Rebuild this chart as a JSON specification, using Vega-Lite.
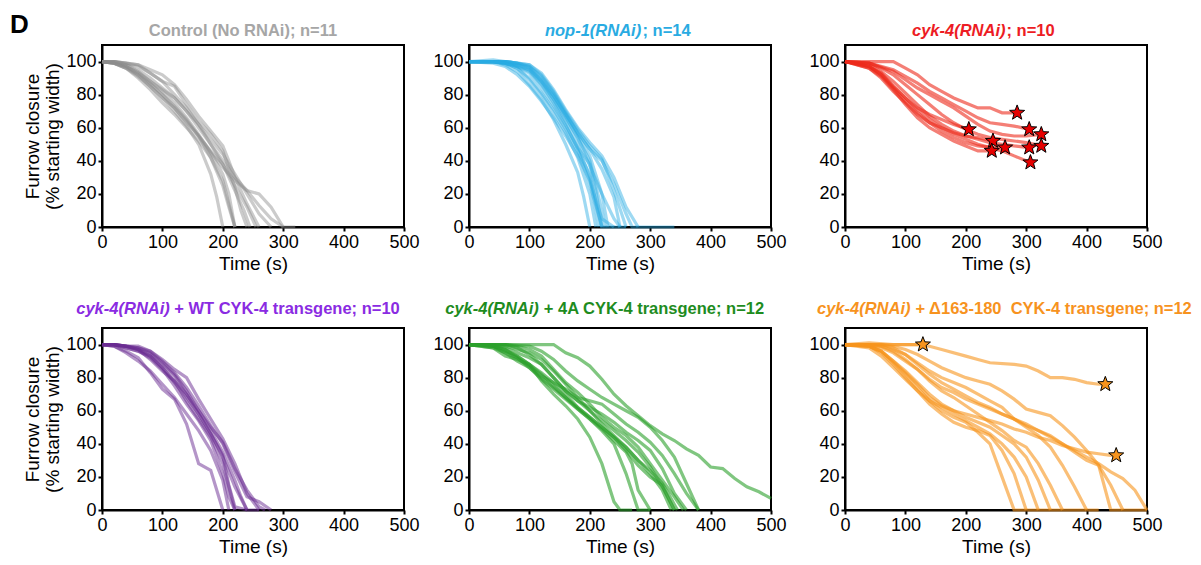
{
"$schema": "https://vega.github.io/schema/vega-lite/v6.json",
"background": "white",
"padding": {"left": 9, "top": 12, "right": 2, "bottom": 2},
"title": {"text": "D", "anchor": "start", "frame": "bounds", "fontSize": 26, "fontWeight": "bold", "color": "black", "baseline": "alphabetic", "offset": -38, "dx": -13},
"config": {
  "font": "Liberation Sans",
  "view": {"stroke": "black", "strokeWidth": 2},
  "axis": {"grid": false, "domainColor": "black", "domainWidth": 2, "tickColor": "black", "tickWidth": 2, "tickSize": 4, "labelColor": "black", "labelFontSize": 18, "labelPadding": 2, "labelFlush": false, "titleColor": "black", "titleFontSize": 19, "titleFontWeight": "normal", "titlePadding": 3}
},
"datasets": {
"ctrl": [
{"i":1,"t":0,"v":100},{"i":1,"t":20,"v":99},{"i":1,"t":40,"v":96},{"i":1,"t":60,"v":91},{"i":1,"t":80,"v":85},{"i":1,"t":100,"v":78},{"i":1,"t":120,"v":70},{"i":1,"t":140,"v":61},{"i":1,"t":160,"v":50},{"i":1,"t":180,"v":32},{"i":1,"t":190,"v":18},{"i":1,"t":200,"v":0},
{"i":2,"t":0,"v":100},{"i":2,"t":20,"v":99},{"i":2,"t":40,"v":96},{"i":2,"t":60,"v":90},{"i":2,"t":80,"v":83},{"i":2,"t":100,"v":75},{"i":2,"t":120,"v":68},{"i":2,"t":140,"v":60},{"i":2,"t":160,"v":52},{"i":2,"t":180,"v":42},{"i":2,"t":200,"v":28},{"i":2,"t":220,"v":0},
{"i":3,"t":0,"v":100},{"i":3,"t":20,"v":100},{"i":3,"t":40,"v":98},{"i":3,"t":60,"v":94},{"i":3,"t":80,"v":88},{"i":3,"t":100,"v":82},{"i":3,"t":120,"v":75},{"i":3,"t":140,"v":66},{"i":3,"t":160,"v":56},{"i":3,"t":180,"v":45},{"i":3,"t":200,"v":32},{"i":3,"t":210,"v":20},{"i":3,"t":220,"v":0},
{"i":4,"t":0,"v":100},{"i":4,"t":20,"v":100},{"i":4,"t":40,"v":99},{"i":4,"t":60,"v":98},{"i":4,"t":80,"v":93},{"i":4,"t":100,"v":88},{"i":4,"t":120,"v":85},{"i":4,"t":140,"v":74},{"i":4,"t":160,"v":64},{"i":4,"t":180,"v":56},{"i":4,"t":200,"v":46},{"i":4,"t":220,"v":24},{"i":4,"t":230,"v":10},{"i":4,"t":240,"v":0},
{"i":5,"t":0,"v":100},{"i":5,"t":20,"v":99},{"i":5,"t":40,"v":97},{"i":5,"t":60,"v":93},{"i":5,"t":80,"v":87},{"i":5,"t":100,"v":80},{"i":5,"t":120,"v":72},{"i":5,"t":140,"v":64},{"i":5,"t":160,"v":55},{"i":5,"t":180,"v":46},{"i":5,"t":200,"v":38},{"i":5,"t":220,"v":25},{"i":5,"t":240,"v":12},{"i":5,"t":255,"v":0},
{"i":6,"t":0,"v":100},{"i":6,"t":20,"v":100},{"i":6,"t":40,"v":99},{"i":6,"t":60,"v":98},{"i":6,"t":80,"v":95},{"i":6,"t":100,"v":92},{"i":6,"t":120,"v":86},{"i":6,"t":140,"v":77},{"i":6,"t":160,"v":67},{"i":6,"t":180,"v":58},{"i":6,"t":200,"v":49},{"i":6,"t":210,"v":40},{"i":6,"t":220,"v":30},{"i":6,"t":240,"v":14},{"i":6,"t":260,"v":0},
{"i":7,"t":0,"v":100},{"i":7,"t":20,"v":99},{"i":7,"t":40,"v":97},{"i":7,"t":60,"v":92},{"i":7,"t":80,"v":85},{"i":7,"t":100,"v":78},{"i":7,"t":120,"v":72},{"i":7,"t":140,"v":63},{"i":7,"t":160,"v":55},{"i":7,"t":180,"v":45},{"i":7,"t":200,"v":36},{"i":7,"t":220,"v":28},{"i":7,"t":240,"v":22},{"i":7,"t":260,"v":20},{"i":7,"t":280,"v":12},{"i":7,"t":300,"v":0},
{"i":8,"t":0,"v":100},{"i":8,"t":20,"v":100},{"i":8,"t":40,"v":98},{"i":8,"t":60,"v":95},{"i":8,"t":80,"v":90},{"i":8,"t":100,"v":84},{"i":8,"t":120,"v":78},{"i":8,"t":140,"v":70},{"i":8,"t":160,"v":60},{"i":8,"t":180,"v":50},{"i":8,"t":200,"v":40},{"i":8,"t":220,"v":30},{"i":8,"t":240,"v":22},{"i":8,"t":260,"v":13},{"i":8,"t":280,"v":5},{"i":8,"t":300,"v":0},{"i":8,"t":320,"v":0},
{"i":9,"t":0,"v":100},{"i":9,"t":20,"v":99},{"i":9,"t":40,"v":97},{"i":9,"t":60,"v":93},{"i":9,"t":80,"v":88},{"i":9,"t":100,"v":83},{"i":9,"t":120,"v":78},{"i":9,"t":140,"v":70},{"i":9,"t":160,"v":62},{"i":9,"t":180,"v":53},{"i":9,"t":200,"v":44},{"i":9,"t":220,"v":32},{"i":9,"t":240,"v":20},{"i":9,"t":260,"v":8},{"i":9,"t":280,"v":0},
{"i":10,"t":0,"v":100},{"i":10,"t":20,"v":99},{"i":10,"t":40,"v":96},{"i":10,"t":60,"v":92},{"i":10,"t":80,"v":86},{"i":10,"t":100,"v":80},{"i":10,"t":120,"v":73},{"i":10,"t":140,"v":65},{"i":10,"t":160,"v":55},{"i":10,"t":180,"v":42},{"i":10,"t":200,"v":25},{"i":10,"t":210,"v":12},{"i":10,"t":220,"v":0},
{"i":11,"t":0,"v":100},{"i":11,"t":20,"v":100},{"i":11,"t":40,"v":99},{"i":11,"t":60,"v":97},{"i":11,"t":80,"v":93},{"i":11,"t":100,"v":88},{"i":11,"t":120,"v":80},{"i":11,"t":140,"v":72},{"i":11,"t":160,"v":62},{"i":11,"t":180,"v":50},{"i":11,"t":200,"v":38},{"i":11,"t":220,"v":22},{"i":11,"t":235,"v":10},{"i":11,"t":245,"v":0}
],
"nop": [
{"i":1,"t":0,"v":100},{"i":1,"t":40,"v":100},{"i":1,"t":60,"v":98},{"i":1,"t":80,"v":94},{"i":1,"t":100,"v":86},{"i":1,"t":120,"v":77},{"i":1,"t":140,"v":65},{"i":1,"t":160,"v":50},{"i":1,"t":180,"v":33},{"i":1,"t":190,"v":18},{"i":1,"t":200,"v":0},
{"i":2,"t":0,"v":100},{"i":2,"t":40,"v":100},{"i":2,"t":60,"v":99},{"i":2,"t":80,"v":96},{"i":2,"t":100,"v":89},{"i":2,"t":120,"v":80},{"i":2,"t":140,"v":69},{"i":2,"t":160,"v":57},{"i":2,"t":180,"v":42},{"i":2,"t":200,"v":20},{"i":2,"t":210,"v":0},
{"i":3,"t":0,"v":100},{"i":3,"t":40,"v":100},{"i":3,"t":60,"v":100},{"i":3,"t":80,"v":98},{"i":3,"t":100,"v":96},{"i":3,"t":120,"v":88},{"i":3,"t":140,"v":77},{"i":3,"t":160,"v":64},{"i":3,"t":180,"v":50},{"i":3,"t":200,"v":30},{"i":3,"t":215,"v":0},
{"i":4,"t":0,"v":100},{"i":4,"t":40,"v":100},{"i":4,"t":60,"v":99},{"i":4,"t":80,"v":97},{"i":4,"t":100,"v":93},{"i":4,"t":120,"v":84},{"i":4,"t":140,"v":73},{"i":4,"t":160,"v":61},{"i":4,"t":180,"v":48},{"i":4,"t":200,"v":38},{"i":4,"t":210,"v":22},{"i":4,"t":220,"v":0},
{"i":5,"t":0,"v":100},{"i":5,"t":40,"v":101},{"i":5,"t":60,"v":100},{"i":5,"t":80,"v":99},{"i":5,"t":100,"v":97},{"i":5,"t":120,"v":90},{"i":5,"t":140,"v":80},{"i":5,"t":160,"v":68},{"i":5,"t":180,"v":56},{"i":5,"t":200,"v":43},{"i":5,"t":220,"v":20},{"i":5,"t":230,"v":0},
{"i":6,"t":0,"v":100},{"i":6,"t":40,"v":100},{"i":6,"t":60,"v":99},{"i":6,"t":80,"v":97},{"i":6,"t":100,"v":95},{"i":6,"t":120,"v":87},{"i":6,"t":140,"v":77},{"i":6,"t":160,"v":66},{"i":6,"t":180,"v":54},{"i":6,"t":200,"v":40},{"i":6,"t":220,"v":10},{"i":6,"t":225,"v":0},
{"i":7,"t":0,"v":100},{"i":7,"t":40,"v":100},{"i":7,"t":60,"v":100},{"i":7,"t":80,"v":99},{"i":7,"t":100,"v":98},{"i":7,"t":120,"v":92},{"i":7,"t":140,"v":82},{"i":7,"t":160,"v":70},{"i":7,"t":180,"v":59},{"i":7,"t":200,"v":49},{"i":7,"t":220,"v":41},{"i":7,"t":240,"v":22},{"i":7,"t":260,"v":0},
{"i":8,"t":0,"v":100},{"i":8,"t":40,"v":100},{"i":8,"t":60,"v":100},{"i":8,"t":80,"v":99},{"i":8,"t":100,"v":98},{"i":8,"t":120,"v":93},{"i":8,"t":140,"v":83},{"i":8,"t":160,"v":71},{"i":8,"t":180,"v":60},{"i":8,"t":200,"v":51},{"i":8,"t":220,"v":43},{"i":8,"t":240,"v":30},{"i":8,"t":260,"v":12},{"i":8,"t":280,"v":0},
{"i":9,"t":0,"v":100},{"i":9,"t":40,"v":99},{"i":9,"t":60,"v":97},{"i":9,"t":80,"v":92},{"i":9,"t":100,"v":85},{"i":9,"t":120,"v":76},{"i":9,"t":140,"v":66},{"i":9,"t":160,"v":55},{"i":9,"t":180,"v":43},{"i":9,"t":200,"v":28},{"i":9,"t":220,"v":5},{"i":9,"t":240,"v":0},
{"i":10,"t":0,"v":100},{"i":10,"t":40,"v":100},{"i":10,"t":60,"v":100},{"i":10,"t":80,"v":99},{"i":10,"t":100,"v":97},{"i":10,"t":120,"v":91},{"i":10,"t":140,"v":81},{"i":10,"t":160,"v":69},{"i":10,"t":180,"v":57},{"i":10,"t":200,"v":47},{"i":10,"t":220,"v":35},{"i":10,"t":240,"v":18},{"i":10,"t":250,"v":0},
{"i":11,"t":0,"v":100},{"i":11,"t":40,"v":100},{"i":11,"t":60,"v":99},{"i":11,"t":80,"v":97},{"i":11,"t":100,"v":94},{"i":11,"t":120,"v":86},{"i":11,"t":140,"v":75},{"i":11,"t":160,"v":62},{"i":11,"t":180,"v":47},{"i":11,"t":200,"v":26},{"i":11,"t":220,"v":0},{"i":11,"t":260,"v":0},
{"i":12,"t":0,"v":100},{"i":12,"t":40,"v":100},{"i":12,"t":60,"v":100},{"i":12,"t":80,"v":99},{"i":12,"t":100,"v":96},{"i":12,"t":120,"v":89},{"i":12,"t":140,"v":79},{"i":12,"t":160,"v":68},{"i":12,"t":180,"v":57},{"i":12,"t":200,"v":47},{"i":12,"t":220,"v":40},{"i":12,"t":240,"v":26},{"i":12,"t":260,"v":8},{"i":12,"t":270,"v":0},{"i":12,"t":340,"v":0},
{"i":13,"t":0,"v":100},{"i":13,"t":40,"v":100},{"i":13,"t":60,"v":99},{"i":13,"t":80,"v":96},{"i":13,"t":100,"v":90},{"i":13,"t":120,"v":81},{"i":13,"t":140,"v":71},{"i":13,"t":160,"v":59},{"i":13,"t":180,"v":46},{"i":13,"t":200,"v":32},{"i":13,"t":210,"v":15},{"i":13,"t":220,"v":0},
{"i":14,"t":0,"v":100},{"i":14,"t":40,"v":100},{"i":14,"t":60,"v":99},{"i":14,"t":80,"v":98},{"i":14,"t":100,"v":95},{"i":14,"t":120,"v":88},{"i":14,"t":140,"v":79},{"i":14,"t":160,"v":67},{"i":14,"t":180,"v":54},{"i":14,"t":200,"v":37},{"i":14,"t":220,"v":20},{"i":14,"t":240,"v":5},{"i":14,"t":250,"v":0}
],
"cyk": [
{"i":1,"t":0,"v":100},{"i":1,"t":40,"v":100},{"i":1,"t":80,"v":100},{"i":1,"t":100,"v":96},{"i":1,"t":120,"v":92},{"i":1,"t":140,"v":86},{"i":1,"t":160,"v":82},{"i":1,"t":180,"v":78},{"i":1,"t":200,"v":75},{"i":1,"t":220,"v":72},{"i":1,"t":240,"v":72},{"i":1,"t":260,"v":69},{"i":1,"t":285,"v":69},
{"i":2,"t":0,"v":100},{"i":2,"t":40,"v":99},{"i":2,"t":80,"v":95},{"i":2,"t":100,"v":91},{"i":2,"t":120,"v":87},{"i":2,"t":140,"v":82},{"i":2,"t":160,"v":78},{"i":2,"t":180,"v":74},{"i":2,"t":200,"v":70},{"i":2,"t":220,"v":66},{"i":2,"t":240,"v":63},{"i":2,"t":260,"v":62},{"i":2,"t":280,"v":61},{"i":2,"t":305,"v":59},
{"i":3,"t":0,"v":100},{"i":3,"t":40,"v":99},{"i":3,"t":80,"v":94},{"i":3,"t":100,"v":89},{"i":3,"t":120,"v":84},{"i":3,"t":140,"v":80},{"i":3,"t":160,"v":76},{"i":3,"t":180,"v":72},{"i":3,"t":200,"v":67},{"i":3,"t":220,"v":62},{"i":3,"t":240,"v":58},{"i":3,"t":260,"v":56},{"i":3,"t":280,"v":55},{"i":3,"t":300,"v":55},{"i":3,"t":325,"v":56},
{"i":4,"t":0,"v":100},{"i":4,"t":40,"v":97},{"i":4,"t":60,"v":93},{"i":4,"t":80,"v":85},{"i":4,"t":100,"v":78},{"i":4,"t":120,"v":72},{"i":4,"t":140,"v":68},{"i":4,"t":160,"v":65},{"i":4,"t":180,"v":62},{"i":4,"t":205,"v":59},
{"i":5,"t":0,"v":100},{"i":5,"t":40,"v":96},{"i":5,"t":60,"v":90},{"i":5,"t":80,"v":82},{"i":5,"t":100,"v":75},{"i":5,"t":120,"v":68},{"i":5,"t":140,"v":63},{"i":5,"t":160,"v":60},{"i":5,"t":180,"v":57},{"i":5,"t":200,"v":55},{"i":5,"t":220,"v":54},{"i":5,"t":245,"v":52},
{"i":6,"t":0,"v":100},{"i":6,"t":40,"v":97},{"i":6,"t":60,"v":92},{"i":6,"t":80,"v":84},{"i":6,"t":100,"v":76},{"i":6,"t":120,"v":69},{"i":6,"t":140,"v":63},{"i":6,"t":160,"v":58},{"i":6,"t":180,"v":54},{"i":6,"t":200,"v":51},{"i":6,"t":220,"v":49},{"i":6,"t":245,"v":48},{"i":6,"t":265,"v":48},
{"i":7,"t":0,"v":100},{"i":7,"t":40,"v":96},{"i":7,"t":60,"v":91},{"i":7,"t":80,"v":83},{"i":7,"t":100,"v":74},{"i":7,"t":120,"v":66},{"i":7,"t":140,"v":60},{"i":7,"t":160,"v":56},{"i":7,"t":180,"v":52},{"i":7,"t":200,"v":49},{"i":7,"t":220,"v":46},{"i":7,"t":243,"v":46},
{"i":8,"t":0,"v":100},{"i":8,"t":40,"v":98},{"i":8,"t":60,"v":94},{"i":8,"t":80,"v":88},{"i":8,"t":100,"v":81},{"i":8,"t":120,"v":74},{"i":8,"t":140,"v":67},{"i":8,"t":160,"v":62},{"i":8,"t":180,"v":58},{"i":8,"t":200,"v":55},{"i":8,"t":220,"v":53},{"i":8,"t":240,"v":51},{"i":8,"t":260,"v":50},{"i":8,"t":280,"v":49},{"i":8,"t":305,"v":48},
{"i":9,"t":0,"v":100},{"i":9,"t":40,"v":99},{"i":9,"t":60,"v":96},{"i":9,"t":80,"v":92},{"i":9,"t":100,"v":86},{"i":9,"t":120,"v":80},{"i":9,"t":140,"v":74},{"i":9,"t":160,"v":68},{"i":9,"t":180,"v":63},{"i":9,"t":200,"v":59},{"i":9,"t":220,"v":56},{"i":9,"t":240,"v":54},{"i":9,"t":260,"v":53},{"i":9,"t":280,"v":52},{"i":9,"t":300,"v":51},{"i":9,"t":325,"v":49},
{"i":10,"t":0,"v":100},{"i":10,"t":40,"v":97},{"i":10,"t":60,"v":92},{"i":10,"t":80,"v":85},{"i":10,"t":100,"v":78},{"i":10,"t":120,"v":71},{"i":10,"t":140,"v":65},{"i":10,"t":160,"v":60},{"i":10,"t":180,"v":56},{"i":10,"t":200,"v":53},{"i":10,"t":220,"v":50},{"i":10,"t":240,"v":48},{"i":10,"t":260,"v":46},{"i":10,"t":280,"v":43},{"i":10,"t":307,"v":39}
],
"cykstar": [
{"t":285,"v":69},{"t":305,"v":59},{"t":325,"v":56},{"t":205,"v":59},{"t":245,"v":52},{"t":265,"v":48},{"t":243,"v":46},{"t":305,"v":48},{"t":325,"v":49},{"t":307,"v":39}
],
"wt": [
{"i":1,"t":0,"v":100},{"i":1,"t":20,"v":99},{"i":1,"t":40,"v":96},{"i":1,"t":60,"v":92},{"i":1,"t":80,"v":83},{"i":1,"t":100,"v":73},{"i":1,"t":120,"v":67},{"i":1,"t":140,"v":52},{"i":1,"t":160,"v":28},{"i":1,"t":180,"v":24},{"i":1,"t":200,"v":0},
{"i":2,"t":0,"v":100},{"i":2,"t":20,"v":99},{"i":2,"t":40,"v":95},{"i":2,"t":60,"v":90},{"i":2,"t":80,"v":84},{"i":2,"t":100,"v":76},{"i":2,"t":120,"v":68},{"i":2,"t":140,"v":58},{"i":2,"t":160,"v":48},{"i":2,"t":180,"v":36},{"i":2,"t":200,"v":18},{"i":2,"t":210,"v":0},
{"i":3,"t":0,"v":100},{"i":3,"t":20,"v":100},{"i":3,"t":40,"v":98},{"i":3,"t":60,"v":96},{"i":3,"t":80,"v":93},{"i":3,"t":100,"v":86},{"i":3,"t":120,"v":78},{"i":3,"t":140,"v":66},{"i":3,"t":160,"v":55},{"i":3,"t":180,"v":44},{"i":3,"t":200,"v":28},{"i":3,"t":220,"v":0},
{"i":4,"t":0,"v":100},{"i":4,"t":20,"v":100},{"i":4,"t":40,"v":99},{"i":4,"t":60,"v":97},{"i":4,"t":80,"v":94},{"i":4,"t":100,"v":88},{"i":4,"t":120,"v":81},{"i":4,"t":140,"v":70},{"i":4,"t":160,"v":58},{"i":4,"t":180,"v":46},{"i":4,"t":200,"v":33},{"i":4,"t":210,"v":15},{"i":4,"t":220,"v":2},{"i":4,"t":240,"v":0},
{"i":5,"t":0,"v":100},{"i":5,"t":20,"v":100},{"i":5,"t":40,"v":99},{"i":5,"t":60,"v":98},{"i":5,"t":80,"v":96},{"i":5,"t":100,"v":90},{"i":5,"t":120,"v":83},{"i":5,"t":140,"v":74},{"i":5,"t":160,"v":63},{"i":5,"t":180,"v":51},{"i":5,"t":200,"v":40},{"i":5,"t":220,"v":23},{"i":5,"t":240,"v":8},{"i":5,"t":260,"v":5},{"i":5,"t":280,"v":0},
{"i":6,"t":0,"v":100},{"i":6,"t":20,"v":100},{"i":6,"t":40,"v":99},{"i":6,"t":60,"v":99},{"i":6,"t":80,"v":96},{"i":6,"t":100,"v":91},{"i":6,"t":120,"v":85},{"i":6,"t":140,"v":80},{"i":6,"t":160,"v":67},{"i":6,"t":180,"v":55},{"i":6,"t":200,"v":43},{"i":6,"t":220,"v":28},{"i":6,"t":240,"v":10},{"i":6,"t":260,"v":0},
{"i":7,"t":0,"v":100},{"i":7,"t":20,"v":100},{"i":7,"t":40,"v":99},{"i":7,"t":60,"v":97},{"i":7,"t":80,"v":93},{"i":7,"t":100,"v":86},{"i":7,"t":120,"v":77},{"i":7,"t":140,"v":68},{"i":7,"t":160,"v":58},{"i":7,"t":180,"v":46},{"i":7,"t":200,"v":32},{"i":7,"t":220,"v":14},{"i":7,"t":240,"v":0},
{"i":8,"t":0,"v":100},{"i":8,"t":20,"v":100},{"i":8,"t":40,"v":99},{"i":8,"t":60,"v":97},{"i":8,"t":80,"v":91},{"i":8,"t":100,"v":84},{"i":8,"t":120,"v":78},{"i":8,"t":140,"v":70},{"i":8,"t":160,"v":60},{"i":8,"t":180,"v":48},{"i":8,"t":200,"v":35},{"i":8,"t":220,"v":18},{"i":8,"t":230,"v":8},{"i":8,"t":240,"v":0},{"i":8,"t":260,"v":0},
{"i":9,"t":0,"v":100},{"i":9,"t":20,"v":100},{"i":9,"t":40,"v":98},{"i":9,"t":60,"v":96},{"i":9,"t":80,"v":92},{"i":9,"t":100,"v":85},{"i":9,"t":120,"v":75},{"i":9,"t":140,"v":64},{"i":9,"t":160,"v":54},{"i":9,"t":180,"v":42},{"i":9,"t":200,"v":22},{"i":9,"t":210,"v":8},{"i":9,"t":220,"v":0},
{"i":10,"t":0,"v":100},{"i":10,"t":20,"v":100},{"i":10,"t":40,"v":99},{"i":10,"t":60,"v":98},{"i":10,"t":80,"v":95},{"i":10,"t":100,"v":89},{"i":10,"t":120,"v":82},{"i":10,"t":140,"v":72},{"i":10,"t":160,"v":60},{"i":10,"t":180,"v":50},{"i":10,"t":200,"v":41},{"i":10,"t":220,"v":25},{"i":10,"t":240,"v":12},{"i":10,"t":260,"v":2},{"i":10,"t":270,"v":0}
],
"a4": [
{"i":1,"t":0,"v":100},{"i":1,"t":140,"v":100},{"i":1,"t":160,"v":95},{"i":1,"t":180,"v":92},{"i":1,"t":200,"v":87},{"i":1,"t":220,"v":79},{"i":1,"t":240,"v":70},{"i":1,"t":260,"v":63},{"i":1,"t":280,"v":57},{"i":1,"t":300,"v":51},{"i":1,"t":320,"v":46},{"i":1,"t":340,"v":42},{"i":1,"t":360,"v":37},{"i":1,"t":380,"v":33},{"i":1,"t":400,"v":26},{"i":1,"t":420,"v":25},{"i":1,"t":440,"v":19},{"i":1,"t":460,"v":14},{"i":1,"t":480,"v":11},{"i":1,"t":500,"v":7},
{"i":2,"t":0,"v":100},{"i":2,"t":60,"v":100},{"i":2,"t":100,"v":99},{"i":2,"t":120,"v":96},{"i":2,"t":140,"v":91},{"i":2,"t":160,"v":84},{"i":2,"t":180,"v":78},{"i":2,"t":200,"v":73},{"i":2,"t":220,"v":68},{"i":2,"t":240,"v":64},{"i":2,"t":260,"v":60},{"i":2,"t":280,"v":56},{"i":2,"t":300,"v":50},{"i":2,"t":320,"v":42},{"i":2,"t":340,"v":32},{"i":2,"t":360,"v":16},{"i":2,"t":380,"v":0},
{"i":3,"t":0,"v":100},{"i":3,"t":40,"v":99},{"i":3,"t":60,"v":96},{"i":3,"t":80,"v":93},{"i":3,"t":100,"v":88},{"i":3,"t":120,"v":78},{"i":3,"t":140,"v":70},{"i":3,"t":160,"v":63},{"i":3,"t":180,"v":55},{"i":3,"t":200,"v":44},{"i":3,"t":220,"v":28},{"i":3,"t":240,"v":5},{"i":3,"t":250,"v":0},{"i":3,"t":270,"v":0},
{"i":4,"t":0,"v":100},{"i":4,"t":40,"v":98},{"i":4,"t":60,"v":95},{"i":4,"t":80,"v":92},{"i":4,"t":100,"v":86},{"i":4,"t":120,"v":79},{"i":4,"t":140,"v":73},{"i":4,"t":160,"v":67},{"i":4,"t":180,"v":61},{"i":4,"t":200,"v":55},{"i":4,"t":220,"v":49},{"i":4,"t":240,"v":42},{"i":4,"t":260,"v":35},{"i":4,"t":270,"v":28},{"i":4,"t":280,"v":12},{"i":4,"t":300,"v":0},
{"i":5,"t":0,"v":100},{"i":5,"t":40,"v":99},{"i":5,"t":60,"v":97},{"i":5,"t":80,"v":93},{"i":5,"t":100,"v":88},{"i":5,"t":120,"v":82},{"i":5,"t":140,"v":75},{"i":5,"t":160,"v":68},{"i":5,"t":180,"v":61},{"i":5,"t":200,"v":55},{"i":5,"t":220,"v":48},{"i":5,"t":240,"v":40},{"i":5,"t":260,"v":22},{"i":5,"t":280,"v":0},{"i":5,"t":300,"v":0},
{"i":6,"t":0,"v":100},{"i":6,"t":40,"v":100},{"i":6,"t":60,"v":98},{"i":6,"t":80,"v":95},{"i":6,"t":100,"v":92},{"i":6,"t":120,"v":88},{"i":6,"t":140,"v":80},{"i":6,"t":160,"v":72},{"i":6,"t":180,"v":66},{"i":6,"t":200,"v":60},{"i":6,"t":220,"v":54},{"i":6,"t":240,"v":48},{"i":6,"t":260,"v":42},{"i":6,"t":280,"v":35},{"i":6,"t":300,"v":26},{"i":6,"t":320,"v":14},{"i":6,"t":340,"v":0},
{"i":7,"t":0,"v":100},{"i":7,"t":40,"v":99},{"i":7,"t":60,"v":95},{"i":7,"t":80,"v":90},{"i":7,"t":100,"v":86},{"i":7,"t":120,"v":80},{"i":7,"t":140,"v":74},{"i":7,"t":160,"v":68},{"i":7,"t":180,"v":62},{"i":7,"t":200,"v":56},{"i":7,"t":220,"v":50},{"i":7,"t":240,"v":44},{"i":7,"t":260,"v":38},{"i":7,"t":280,"v":30},{"i":7,"t":300,"v":22},{"i":7,"t":320,"v":12},{"i":7,"t":335,"v":0},
{"i":8,"t":0,"v":100},{"i":8,"t":60,"v":100},{"i":8,"t":80,"v":99},{"i":8,"t":100,"v":97},{"i":8,"t":120,"v":93},{"i":8,"t":140,"v":85},{"i":8,"t":160,"v":77},{"i":8,"t":180,"v":71},{"i":8,"t":200,"v":64},{"i":8,"t":220,"v":56},{"i":8,"t":240,"v":50},{"i":8,"t":260,"v":45},{"i":8,"t":280,"v":38},{"i":8,"t":300,"v":28},{"i":8,"t":320,"v":18},{"i":8,"t":340,"v":8},{"i":8,"t":355,"v":0},
{"i":9,"t":0,"v":100},{"i":9,"t":60,"v":100},{"i":9,"t":80,"v":98},{"i":9,"t":100,"v":94},{"i":9,"t":120,"v":88},{"i":9,"t":140,"v":80},{"i":9,"t":160,"v":72},{"i":9,"t":180,"v":66},{"i":9,"t":200,"v":62},{"i":9,"t":220,"v":58},{"i":9,"t":240,"v":53},{"i":9,"t":260,"v":47},{"i":9,"t":280,"v":42},{"i":9,"t":300,"v":36},{"i":9,"t":320,"v":25},{"i":9,"t":340,"v":10},{"i":9,"t":360,"v":0},
{"i":10,"t":0,"v":100},{"i":10,"t":40,"v":99},{"i":10,"t":60,"v":97},{"i":10,"t":80,"v":92},{"i":10,"t":100,"v":87},{"i":10,"t":120,"v":81},{"i":10,"t":140,"v":77},{"i":10,"t":160,"v":73},{"i":10,"t":180,"v":68},{"i":10,"t":200,"v":66},{"i":10,"t":220,"v":64},{"i":10,"t":240,"v":58},{"i":10,"t":260,"v":52},{"i":10,"t":280,"v":47},{"i":10,"t":300,"v":41},{"i":10,"t":320,"v":33},{"i":10,"t":340,"v":22},{"i":10,"t":360,"v":10},{"i":10,"t":380,"v":0},
{"i":11,"t":0,"v":100},{"i":11,"t":60,"v":99},{"i":11,"t":80,"v":97},{"i":11,"t":100,"v":95},{"i":11,"t":120,"v":91},{"i":11,"t":140,"v":84},{"i":11,"t":160,"v":76},{"i":11,"t":180,"v":68},{"i":11,"t":200,"v":60},{"i":11,"t":220,"v":52},{"i":11,"t":240,"v":45},{"i":11,"t":260,"v":38},{"i":11,"t":280,"v":30},{"i":11,"t":300,"v":24},{"i":11,"t":320,"v":16},{"i":11,"t":330,"v":10},{"i":11,"t":345,"v":0},
{"i":12,"t":0,"v":100},{"i":12,"t":40,"v":98},{"i":12,"t":60,"v":93},{"i":12,"t":80,"v":91},{"i":12,"t":100,"v":88},{"i":12,"t":120,"v":83},{"i":12,"t":140,"v":77},{"i":12,"t":160,"v":70},{"i":12,"t":180,"v":62},{"i":12,"t":200,"v":56},{"i":12,"t":220,"v":50},{"i":12,"t":240,"v":44},{"i":12,"t":260,"v":36},{"i":12,"t":280,"v":27},{"i":12,"t":300,"v":20},{"i":12,"t":320,"v":15},{"i":12,"t":340,"v":0}
],
"del": [
{"i":1,"t":0,"v":100},{"i":1,"t":60,"v":100},{"i":1,"t":129,"v":100},{"i":1,"t":160,"v":97},{"i":1,"t":200,"v":93},{"i":1,"t":220,"v":91},{"i":1,"t":240,"v":89},{"i":1,"t":280,"v":88},{"i":1,"t":300,"v":87},{"i":1,"t":320,"v":84},{"i":1,"t":340,"v":80},{"i":1,"t":360,"v":80},{"i":1,"t":380,"v":79},{"i":1,"t":400,"v":77},{"i":1,"t":420,"v":76},{"i":1,"t":431,"v":76},
{"i":2,"t":0,"v":100},{"i":2,"t":40,"v":99},{"i":2,"t":60,"v":96},{"i":2,"t":80,"v":90},{"i":2,"t":100,"v":83},{"i":2,"t":120,"v":76},{"i":2,"t":140,"v":68},{"i":2,"t":160,"v":63},{"i":2,"t":180,"v":60},{"i":2,"t":200,"v":58},{"i":2,"t":220,"v":56},{"i":2,"t":240,"v":54},{"i":2,"t":260,"v":52},{"i":2,"t":280,"v":49},{"i":2,"t":300,"v":47},{"i":2,"t":320,"v":44},{"i":2,"t":340,"v":42},{"i":2,"t":360,"v":39},{"i":2,"t":380,"v":37},{"i":2,"t":400,"v":35},{"i":2,"t":420,"v":34},{"i":2,"t":440,"v":33},{"i":2,"t":449,"v":33},
{"i":3,"t":0,"v":100},{"i":3,"t":40,"v":99},{"i":3,"t":60,"v":96},{"i":3,"t":80,"v":89},{"i":3,"t":100,"v":82},{"i":3,"t":120,"v":74},{"i":3,"t":140,"v":66},{"i":3,"t":160,"v":60},{"i":3,"t":180,"v":56},{"i":3,"t":200,"v":53},{"i":3,"t":220,"v":47},{"i":3,"t":240,"v":40},{"i":3,"t":260,"v":20},{"i":3,"t":280,"v":0},{"i":3,"t":420,"v":0},
{"i":4,"t":0,"v":100},{"i":4,"t":40,"v":99},{"i":4,"t":60,"v":95},{"i":4,"t":80,"v":88},{"i":4,"t":100,"v":80},{"i":4,"t":120,"v":72},{"i":4,"t":140,"v":64},{"i":4,"t":160,"v":58},{"i":4,"t":180,"v":53},{"i":4,"t":200,"v":50},{"i":4,"t":220,"v":48},{"i":4,"t":240,"v":45},{"i":4,"t":260,"v":36},{"i":4,"t":280,"v":22},{"i":4,"t":300,"v":0},
{"i":5,"t":0,"v":100},{"i":5,"t":40,"v":99},{"i":5,"t":60,"v":96},{"i":5,"t":80,"v":90},{"i":5,"t":100,"v":84},{"i":5,"t":120,"v":77},{"i":5,"t":140,"v":70},{"i":5,"t":160,"v":64},{"i":5,"t":180,"v":60},{"i":5,"t":200,"v":56},{"i":5,"t":220,"v":53},{"i":5,"t":240,"v":50},{"i":5,"t":260,"v":45},{"i":5,"t":280,"v":40},{"i":5,"t":300,"v":32},{"i":5,"t":320,"v":18},{"i":5,"t":340,"v":0},
{"i":6,"t":0,"v":100},{"i":6,"t":40,"v":100},{"i":6,"t":60,"v":98},{"i":6,"t":80,"v":95},{"i":6,"t":100,"v":90},{"i":6,"t":120,"v":85},{"i":6,"t":140,"v":78},{"i":6,"t":160,"v":72},{"i":6,"t":180,"v":68},{"i":6,"t":200,"v":63},{"i":6,"t":220,"v":58},{"i":6,"t":240,"v":53},{"i":6,"t":260,"v":48},{"i":6,"t":280,"v":42},{"i":6,"t":300,"v":38},{"i":6,"t":320,"v":28},{"i":6,"t":340,"v":15},{"i":6,"t":360,"v":0},
{"i":7,"t":0,"v":100},{"i":7,"t":40,"v":100},{"i":7,"t":60,"v":99},{"i":7,"t":80,"v":97},{"i":7,"t":100,"v":94},{"i":7,"t":120,"v":89},{"i":7,"t":140,"v":84},{"i":7,"t":160,"v":80},{"i":7,"t":180,"v":77},{"i":7,"t":200,"v":74},{"i":7,"t":220,"v":70},{"i":7,"t":240,"v":66},{"i":7,"t":260,"v":62},{"i":7,"t":280,"v":55},{"i":7,"t":300,"v":50},{"i":7,"t":320,"v":45},{"i":7,"t":340,"v":38},{"i":7,"t":360,"v":27},{"i":7,"t":380,"v":14},{"i":7,"t":400,"v":0},
{"i":8,"t":0,"v":100},{"i":8,"t":60,"v":100},{"i":8,"t":80,"v":99},{"i":8,"t":100,"v":97},{"i":8,"t":120,"v":94},{"i":8,"t":140,"v":90},{"i":8,"t":160,"v":86},{"i":8,"t":180,"v":83},{"i":8,"t":200,"v":80},{"i":8,"t":220,"v":78},{"i":8,"t":240,"v":76},{"i":8,"t":260,"v":72},{"i":8,"t":280,"v":67},{"i":8,"t":300,"v":61},{"i":8,"t":320,"v":59},{"i":8,"t":340,"v":57},{"i":8,"t":360,"v":51},{"i":8,"t":380,"v":44},{"i":8,"t":400,"v":36},{"i":8,"t":420,"v":27},{"i":8,"t":440,"v":0},{"i":8,"t":500,"v":0},
{"i":9,"t":0,"v":100},{"i":9,"t":60,"v":99},{"i":9,"t":80,"v":96},{"i":9,"t":100,"v":91},{"i":9,"t":120,"v":85},{"i":9,"t":140,"v":79},{"i":9,"t":160,"v":74},{"i":9,"t":180,"v":71},{"i":9,"t":200,"v":67},{"i":9,"t":220,"v":64},{"i":9,"t":240,"v":61},{"i":9,"t":260,"v":58},{"i":9,"t":280,"v":55},{"i":9,"t":300,"v":51},{"i":9,"t":320,"v":48},{"i":9,"t":340,"v":45},{"i":9,"t":360,"v":40},{"i":9,"t":380,"v":35},{"i":9,"t":400,"v":30},{"i":9,"t":420,"v":27},{"i":9,"t":440,"v":15},{"i":9,"t":460,"v":0},
{"i":10,"t":0,"v":100},{"i":10,"t":60,"v":100},{"i":10,"t":80,"v":98},{"i":10,"t":100,"v":94},{"i":10,"t":120,"v":88},{"i":10,"t":140,"v":82},{"i":10,"t":160,"v":77},{"i":10,"t":180,"v":73},{"i":10,"t":200,"v":69},{"i":10,"t":220,"v":65},{"i":10,"t":240,"v":62},{"i":10,"t":260,"v":58},{"i":10,"t":280,"v":55},{"i":10,"t":300,"v":52},{"i":10,"t":320,"v":48},{"i":10,"t":340,"v":44},{"i":10,"t":360,"v":40},{"i":10,"t":380,"v":36},{"i":10,"t":400,"v":32},{"i":10,"t":420,"v":28},{"i":10,"t":440,"v":23},{"i":10,"t":460,"v":19},{"i":10,"t":480,"v":12},{"i":10,"t":500,"v":0},
{"i":11,"t":0,"v":100},{"i":11,"t":40,"v":98},{"i":11,"t":60,"v":93},{"i":11,"t":80,"v":86},{"i":11,"t":100,"v":79},{"i":11,"t":120,"v":72},{"i":11,"t":140,"v":66},{"i":11,"t":160,"v":62},{"i":11,"t":180,"v":58},{"i":11,"t":200,"v":54},{"i":11,"t":220,"v":50},{"i":11,"t":240,"v":46},{"i":11,"t":260,"v":40},{"i":11,"t":280,"v":32},{"i":11,"t":300,"v":20},{"i":11,"t":320,"v":0},
{"i":12,"t":0,"v":100},{"i":12,"t":40,"v":101},{"i":12,"t":80,"v":100},{"i":12,"t":129,"v":100}
],
"delstar": [
{"t":129,"v":100},{"t":431,"v":76},{"t":449,"v":33}
]
},
"vconcat": [
{"hconcat": [
 {"hconcat": [
  {"width": 302, "height": 182, "data": {"name": "ctrl"},
   "layer": [
    {"mark": {"type": "line", "color": "#8c8c8c", "opacity": 0.45, "strokeWidth": 3.2},
     "encoding": {
      "x": {"field": "t", "type": "quantitative", "scale": {"domain": [0, 500], "nice": false}, "axis": {"orient": "bottom", "title": "Time (s)", "values": [0,100,200,300,400,500]}},
      "y": {"field": "v", "type": "quantitative", "scale": {"domain": [0, 110], "nice": false}, "axis": {"orient": "left", "title": ["Furrow closure", "(% starting width)"], "titleLineHeight": 20, "values": [0,20,40,60,80,100]}},
      "detail": {"field": "i", "type": "nominal"}}},
    {"mark": {"type": "point", "opacity": 0},
     "encoding": {
      "x": {"field": "t", "type": "quantitative", "axis": {"orient": "top", "domain": false, "ticks": false, "labels": false, "title": "Control (No RNAi); n=11", "titleX": 140.5, "titleY": -10, "titleAlign": "center", "titleBaseline": "alphabetic", "titleColor": "#a6a6a6", "titleFontWeight": "bold", "titleFontSize": 16.5}},
      "y": {"field": "v", "type": "quantitative", "axis": null}}}
   ],
   "resolve": {"axis": {"x": "independent", "y": "independent"}}},
  {"width": 302, "height": 182, "data": {"name": "nop"},
   "layer": [
    {"mark": {"type": "line", "color": "#29abe2", "opacity": 0.45, "strokeWidth": 3.2},
     "encoding": {
      "x": {"field": "t", "type": "quantitative", "scale": {"domain": [0, 500], "nice": false}, "axis": {"orient": "bottom", "title": "Time (s)", "values": [0,100,200,300,400,500]}},
      "y": {"field": "v", "type": "quantitative", "scale": {"domain": [0, 110], "nice": false}, "axis": {"orient": "left", "title": null, "values": [0,20,40,60,80,100]}},
      "detail": {"field": "i", "type": "nominal"}}},
    {"mark": {"type": "point", "opacity": 0},
     "encoding": {
      "x": {"field": "t", "type": "quantitative", "axis": {"orient": "top", "domain": false, "ticks": false, "labels": false, "title": "nop-1(RNAi)", "titleX": 171.7, "titleY": -10, "titleAlign": "right", "titleBaseline": "alphabetic", "titleColor": "#29abe2", "titleFontWeight": "bold", "titleFontStyle": "italic", "titleFontSize": 16.5}},
      "y": {"field": "v", "type": "quantitative", "axis": {"orient": "right", "domain": false, "ticks": false, "labels": false, "title": "; n=14", "titleAngle": 0, "titleX": -129, "titleY": -10, "titleAlign": "left", "titleBaseline": "alphabetic", "titleColor": "#29abe2", "titleFontWeight": "bold", "titleFontSize": 16.5}}}}
   ],
   "resolve": {"axis": {"x": "independent", "y": "independent"}}}
 ], "spacing": 10},
 {"width": 302, "height": 182, "data": {"name": "cyk"},
  "layer": [
   {"mark": {"type": "line", "color": "#ec2a1a", "opacity": 0.6, "strokeWidth": 3.2},
    "encoding": {
     "x": {"field": "t", "type": "quantitative", "scale": {"domain": [0, 500], "nice": false}, "axis": {"orient": "bottom", "title": "Time (s)", "values": [0,100,200,300,400,500]}},
     "y": {"field": "v", "type": "quantitative", "scale": {"domain": [0, 110], "nice": false}, "axis": {"orient": "left", "title": null, "values": [0,20,40,60,80,100]}},
     "detail": {"field": "i", "type": "nominal"}}},
   {"mark": {"type": "point", "opacity": 0},
    "encoding": {
     "x": {"field": "t", "type": "quantitative", "axis": {"orient": "top", "domain": false, "ticks": false, "labels": false, "title": "cyk-4(RNAi)", "titleX": 160, "titleY": -10, "titleAlign": "right", "titleBaseline": "alphabetic", "titleColor": "#ed1c24", "titleFontWeight": "bold", "titleFontStyle": "italic", "titleFontSize": 16.5}},
     "y": {"field": "v", "type": "quantitative", "axis": {"orient": "right", "domain": false, "ticks": false, "labels": false, "title": "; n=10", "titleAngle": 0, "titleX": -141, "titleY": -10, "titleAlign": "left", "titleBaseline": "alphabetic", "titleColor": "#ed1c24", "titleFontWeight": "bold", "titleFontSize": 16.5}}}},
   {"data": {"name": "cykstar"},
    "mark": {"type": "point", "shape": "M0,-1L0.247,-0.34L0.951,-0.309L0.399,0.13L0.588,0.809L0,0.42L-0.588,0.809L-0.399,0.13L-0.951,-0.309L-0.247,-0.34Z", "filled": true, "color": "#e60000", "stroke": "black", "strokeWidth": 1, "size": 250, "opacity": 1},
    "encoding": {"x": {"field": "t", "type": "quantitative", "axis": null}, "y": {"field": "v", "type": "quantitative", "axis": null}}}
  ],
  "resolve": {"axis": {"x": "independent", "y": "independent"}}}
], "spacing": 19},
{"hconcat": [
 {"hconcat": [
  {"width": 302, "height": 182, "data": {"name": "wt"},
   "layer": [
    {"mark": {"type": "line", "color": "#6a2c91", "opacity": 0.5, "strokeWidth": 3.2},
     "encoding": {
      "x": {"field": "t", "type": "quantitative", "scale": {"domain": [0, 500], "nice": false}, "axis": {"orient": "bottom", "title": "Time (s)", "values": [0,100,200,300,400,500]}},
      "y": {"field": "v", "type": "quantitative", "scale": {"domain": [0, 110], "nice": false}, "axis": {"orient": "left", "title": ["Furrow closure", "(% starting width)"], "titleLineHeight": 20, "values": [0,20,40,60,80,100]}},
      "detail": {"field": "i", "type": "nominal"}}},
    {"mark": {"type": "point", "opacity": 0},
     "encoding": {
      "x": {"field": "t", "type": "quantitative", "axis": {"orient": "top", "domain": false, "ticks": false, "labels": false, "title": "cyk-4(RNAi)", "titleX": 67.3, "titleY": -15, "titleAlign": "right", "titleBaseline": "alphabetic", "titleColor": "#8a2be2", "titleFontWeight": "bold", "titleFontStyle": "italic", "titleFontSize": 16.5}},
      "y": {"field": "v", "type": "quantitative", "axis": {"orient": "right", "domain": false, "ticks": false, "labels": false, "title": "+ WT CYK-4 transgene; n=10", "titleAngle": 0, "titleX": -230.3, "titleY": -15, "titleAlign": "left", "titleBaseline": "alphabetic", "titleColor": "#8a2be2", "titleFontWeight": "bold", "titleFontSize": 16.5}}}}
   ],
   "resolve": {"axis": {"x": "independent", "y": "independent"}}},
  {"width": 302, "height": 182, "data": {"name": "a4"},
   "layer": [
    {"mark": {"type": "line", "color": "#2ca02c", "opacity": 0.6, "strokeWidth": 3.2},
     "encoding": {
      "x": {"field": "t", "type": "quantitative", "scale": {"domain": [0, 500], "nice": false}, "axis": {"orient": "bottom", "title": "Time (s)", "values": [0,100,200,300,400,500]}},
      "y": {"field": "v", "type": "quantitative", "scale": {"domain": [0, 110], "nice": false}, "axis": {"orient": "left", "title": null, "values": [0,20,40,60,80,100]}},
      "detail": {"field": "i", "type": "nominal"}}},
    {"mark": {"type": "point", "opacity": 0},
     "encoding": {
      "x": {"field": "t", "type": "quantitative", "axis": {"orient": "top", "domain": false, "ticks": false, "labels": false, "title": "cyk-4(RNAi)", "titleX": 69.3, "titleY": -15, "titleAlign": "right", "titleBaseline": "alphabetic", "titleColor": "#1e8c1e", "titleFontWeight": "bold", "titleFontStyle": "italic", "titleFontSize": 16.5}},
      "y": {"field": "v", "type": "quantitative", "axis": {"orient": "right", "domain": false, "ticks": false, "labels": false, "title": "+ 4A CYK-4 transgene; n=12", "titleAngle": 0, "titleX": -227.7, "titleY": -15, "titleAlign": "left", "titleBaseline": "alphabetic", "titleColor": "#1e8c1e", "titleFontWeight": "bold", "titleFontSize": 16.5}}}}
   ],
   "resolve": {"axis": {"x": "independent", "y": "independent"}}}
 ], "spacing": 10},
 {"width": 302, "height": 182, "data": {"name": "del"},
  "layer": [
   {"mark": {"type": "line", "color": "#f7941d", "opacity": 0.6, "strokeWidth": 3.2},
    "encoding": {
     "x": {"field": "t", "type": "quantitative", "scale": {"domain": [0, 500], "nice": false}, "axis": {"orient": "bottom", "title": "Time (s)", "values": [0,100,200,300,400,500]}},
     "y": {"field": "v", "type": "quantitative", "scale": {"domain": [0, 110], "nice": false}, "axis": {"orient": "left", "title": null, "values": [0,20,40,60,80,100]}},
     "detail": {"field": "i", "type": "nominal"}}},
   {"mark": {"type": "point", "opacity": 0},
    "encoding": {
     "x": {"field": "t", "type": "quantitative", "axis": {"orient": "top", "domain": false, "ticks": false, "labels": false, "title": "cyk-4(RNAi)", "titleX": 65, "titleY": -15, "titleAlign": "right", "titleBaseline": "alphabetic", "titleColor": "#f7931e", "titleFontWeight": "bold", "titleFontStyle": "italic", "titleFontSize": 16.5}},
     "y": {"field": "v", "type": "quantitative", "axis": {"orient": "right", "domain": false, "ticks": false, "labels": false, "title": "+ Δ163-180\u00a0 CYK-4 transgene; n=12", "titleAngle": 0, "titleX": -232, "titleY": -15, "titleAlign": "left", "titleBaseline": "alphabetic", "titleColor": "#f7931e", "titleFontWeight": "bold", "titleFontSize": 16.5}}}},
   {"data": {"name": "delstar"},
    "mark": {"type": "point", "shape": "M0,-1L0.247,-0.34L0.951,-0.309L0.399,0.13L0.588,0.809L0,0.42L-0.588,0.809L-0.399,0.13L-0.951,-0.309L-0.247,-0.34Z", "filled": true, "color": "#f7941d", "stroke": "black", "strokeWidth": 1, "size": 250, "opacity": 1},
    "encoding": {"x": {"field": "t", "type": "quantitative", "axis": null}, "y": {"field": "v", "type": "quantitative", "axis": null}}}
  ],
  "resolve": {"axis": {"x": "independent", "y": "independent"}}}
], "spacing": 19}
],
"spacing": 25
}
